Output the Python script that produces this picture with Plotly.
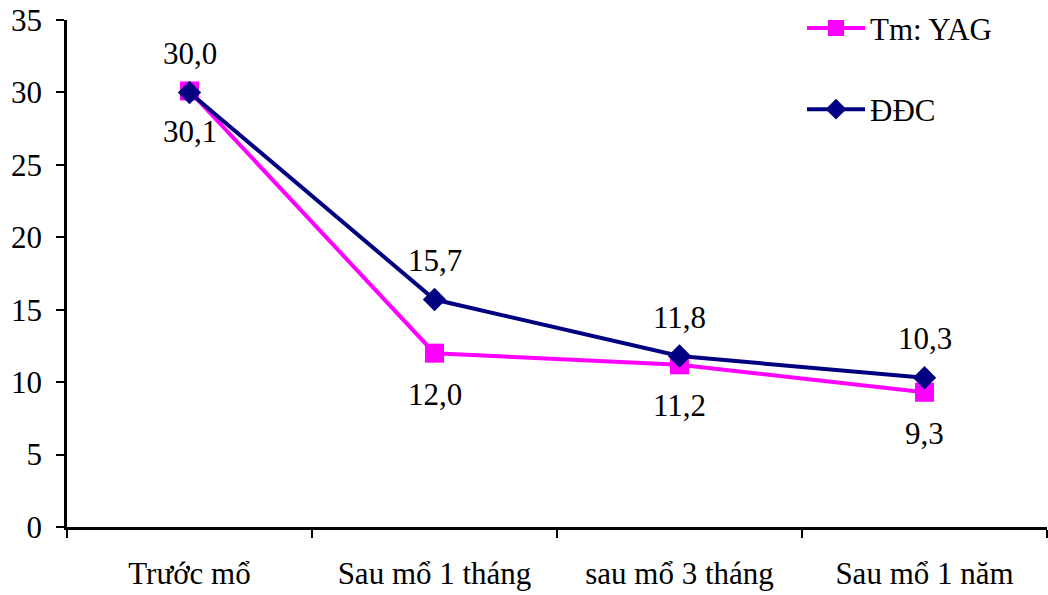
import plotly.graph_objects as go

categories = ["Trước mổ", "Sau mổ 1 tháng", "sau mổ 3 tháng", "Sau mổ 1 năm"]
yag_values = [30.1, 12.0, 11.2, 9.3]
ddc_values = [30.0, 15.7, 11.8, 10.3]
series_names = ["Tm: YAG", "ĐĐC"]

FONT = "Liberation Serif"
FS = 31
PINK = "#FF00FF"
NAVY = "#000080"


def fmt(v):
    return f"{v:.1f}".replace(".", ",")


fig = go.Figure()
fig.add_trace(go.Scatter(
    x=categories, y=yag_values, name=series_names[0], mode="lines+markers",
    line=dict(color=PINK, width=4),
    marker=dict(symbol="square", size=19, color=PINK),
    legendgroup="a",
))
fig.add_trace(go.Scatter(
    x=categories, y=ddc_values, name=series_names[1], mode="lines+markers",
    line=dict(color=NAVY, width=4),
    marker=dict(symbol="diamond", size=18, color=NAVY),
    legendgroup="b",
))

# value labels: YAG below its points, ĐĐC above
for c, v in zip(categories, yag_values):
    fig.add_annotation(x=c, y=v, text=fmt(v), showarrow=False, yshift=-41,
                       font=dict(family=FONT, size=FS, color="black"))
for c, v in zip(categories, ddc_values):
    fig.add_annotation(x=c, y=v, text=fmt(v), showarrow=False, yshift=39,
                       font=dict(family=FONT, size=FS, color="black"))

fig.update_layout(
    width=1048, height=595,
    margin=dict(l=67, r=1, t=20, b=68),
    paper_bgcolor="white", plot_bgcolor="white",
    font=dict(family=FONT, size=FS, color="black"),
    showlegend=True,
    legend=dict(x=0.75, y=1.037, xanchor="left", yanchor="top",
                tracegroupgap=38, traceorder="grouped", itemwidth=58,
                font=dict(family=FONT, size=FS, color="black"),
                bgcolor="rgba(0,0,0,0)"),
    xaxis=dict(
        type="category", range=[-0.5, 3.5], tickson="boundaries",
        showline=True, linecolor="black", linewidth=2.5,
        ticks="outside", ticklen=8, tickwidth=2, tickcolor="black",
        showgrid=False, zeroline=False, ticklabelstandoff=17,
        tickfont=dict(family=FONT, size=FS, color="black"),
    ),
    yaxis=dict(
        range=[0, 35], dtick=5, tick0=0,
        showline=True, linecolor="black", linewidth=2.5,
        ticks="outside", ticklen=8, tickwidth=2, tickcolor="black",
        showgrid=False, zeroline=False, ticklabelstandoff=8,
        tickfont=dict(family=FONT, size=FS, color="black"),
    ),
)

fig.write_html("out.html")
